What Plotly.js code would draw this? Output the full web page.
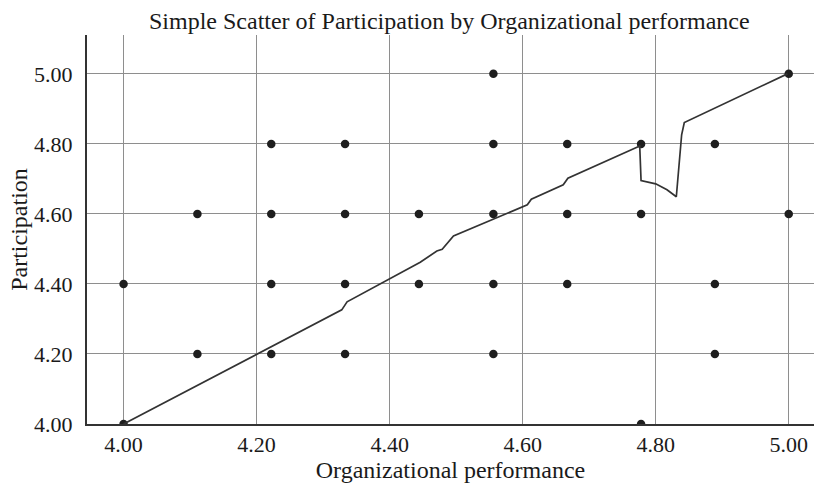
<!DOCTYPE html>
<html>
<head>
<meta charset="utf-8">
<script src="https://cdn.plot.ly/plotly-3.0.1.min.js"></script>
<style>html,body{margin:0;padding:0;background:#fff;}#chart{width:814px;height:483px;}</style>
</head>
<body>
<div id="chart"></div>
<script>
// Scatter points (Organizational performance, Participation)
const orgPerf = [
  4.556, 5.0,
  4.222, 4.333, 4.556, 4.667, 4.778, 4.889,
  4.111, 4.222, 4.333, 4.444, 4.556, 4.667, 4.778, 5.0,
  4.0, 4.222, 4.333, 4.444, 4.556, 4.667, 4.889,
  4.111, 4.222, 4.333, 4.556, 4.889,
  4.0, 4.778
];
const participation = [
  5.0, 5.0,
  4.8, 4.8, 4.8, 4.8, 4.8, 4.8,
  4.6, 4.6, 4.6, 4.6, 4.6, 4.6, 4.6, 4.6,
  4.4, 4.4, 4.4, 4.4, 4.4, 4.4, 4.4,
  4.2, 4.2, 4.2, 4.2, 4.2,
  4.0, 4.0
];
// Fit line
const fitX = [4.0, 4.2, 4.328, 4.336, 4.441, 4.446, 4.471, 4.479, 4.496, 4.607, 4.613, 4.661, 4.668, 4.776, 4.778, 4.800, 4.817, 4.831, 4.839, 4.843, 4.998];
const fitY = [4.0, 4.2, 4.326, 4.349, 4.459, 4.462, 4.494, 4.499, 4.537, 4.626, 4.642, 4.683, 4.702, 4.794, 4.695, 4.686, 4.669, 4.649, 4.826, 4.861, 5.0];
const tickVals = [4.0, 4.2, 4.4, 4.6, 4.8, 5.0];
const tickText = ["4.00", "4.20", "4.40", "4.60", "4.80", "5.00"];

const font = "'Liberation Serif', 'DejaVu Serif', serif";

const traces = [
  {
    x: orgPerf, y: participation, type: 'scatter', mode: 'markers',
    marker: {color: '#1e1e1e', size: 8.5}, hoverinfo: 'none'
  },
  {
    x: fitX, y: fitY, type: 'scatter', mode: 'lines',
    line: {color: '#333333', width: 1.7}, hoverinfo: 'none'
  }
];

const layout = {
  width: 814, height: 483,
  margin: {l: 87, r: 0, t: 35, b: 59},
  paper_bgcolor: '#ffffff', plot_bgcolor: '#ffffff',
  showlegend: false,
  font: {family: font, color: '#1a1a1a', size: 22},
  title: {text: 'Simple Scatter of Participation by Organizational performance',
          font: {family: font, size: 24, color: '#1a1a1a'},
          x: 0.552, xanchor: 'center', xref: 'container',
          y: 0.958, yanchor: 'middle', yref: 'container'},
  xaxis: {
    range: [3.945, 5.038], tickvals: tickVals, ticktext: tickText,
    showgrid: true, gridcolor: '#8e8e8e', gridwidth: 1,
    zeroline: false, showline: true, linecolor: '#333333', linewidth: 2,
    ticks: '', ticklabelstandoff: 0,
    tickfont: {family: font, size: 22, color: '#1a1a1a'},
    title: {text: 'Organizational performance', font: {family: font, size: 24, color: '#1a1a1a'}, standoff: 4},
    automargin: false
  },
  yaxis: {
    range: [4.0, 5.111], tickvals: tickVals, ticktext: tickText,
    showgrid: true, gridcolor: '#8e8e8e', gridwidth: 1,
    zeroline: false, showline: true, linecolor: '#333333', linewidth: 2,
    ticks: '', ticklabelstandoff: 8,
    tickfont: {family: font, size: 22, color: '#1a1a1a'},
    title: {text: 'Participation', font: {family: font, size: 24, color: '#1a1a1a'}, standoff: 0},
    automargin: false
  }
};

Plotly.newPlot('chart', traces, layout, {displayModeBar: false, staticPlot: true});
</script>
</body>
</html>
